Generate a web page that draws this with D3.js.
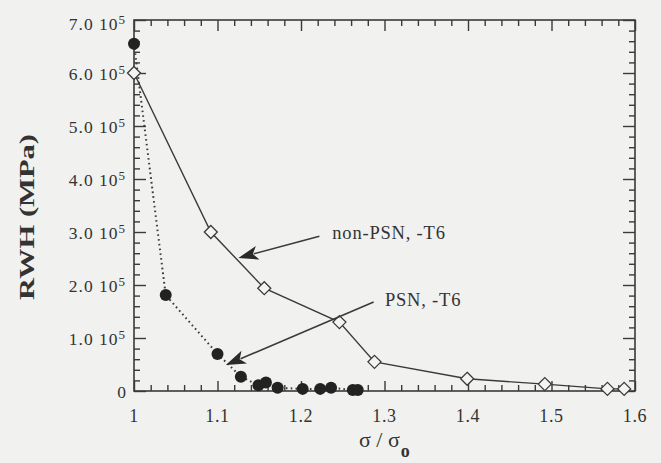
<!DOCTYPE html>
<html><head><meta charset="utf-8">
<script src="https://cdn.jsdelivr.net/npm/d3@7"></script>
<style>body{margin:0;background:#f1f1ef;}svg{display:block;}</style>
</head><body>
<svg id="c" width="661" height="463"></svg>
<script>
// Data
const nonPsnX = [1.0, 1.092, 1.156, 1.246, 1.288, 1.399, 1.492, 1.567, 1.587];
const nonPsnY = [6.0e5, 3.0e5, 1.94e5, 1.30e5, 0.55e5, 0.23e5, 0.13e5, 0.04e5, 0.04e5];
const psnX = [1.0, 1.038, 1.100, 1.128, 1.149, 1.158, 1.172, 1.202, 1.223, 1.236, 1.262, 1.268];
const psnY = [6.55e5, 1.81e5, 0.70e5, 0.27e5, 0.11e5, 0.16e5, 0.06e5, 0.04e5, 0.04e5, 0.06e5, 0.02e5, 0.02e5];
const xTicks = [1, 1.1, 1.2, 1.3, 1.4, 1.5, 1.6];
const xTickLabels = ["1", "1.1", "1.2", "1.3", "1.4", "1.5", "1.6"];
const yTicks = [0, 1e5, 2e5, 3e5, 4e5, 5e5, 6e5, 7e5];
const yTickLabels = ["0", "1.0", "2.0", "3.0", "4.0", "5.0", "6.0", "7.0"];
const annotations = [
  {text: "non-PSN, -T6", from: [1.222, 2.92e5], to: [1.125, 2.51e5], label: [1.2375, 2.86e5]},
  {text: "PSN, -T6", from: [1.287, 1.68e5], to: [1.110, 0.49e5], label: [1.3005, 1.60e5]}
];

const svg = d3.select("#c");
const L = 134, R = 635, T = 20, B = 391;
const x = d3.scaleLinear().domain([1, 1.6]).range([L, R]);
const y = d3.scaleLinear().domain([0, 7e5]).range([B, T]);
const ink = "#3a3a3a";
const font = "'Liberation Serif', 'Times New Roman', serif";

// frame
svg.append("rect").attr("x", L).attr("y", T).attr("width", R - L).attr("height", B - T)
  .attr("fill", "none").attr("stroke", ink).attr("stroke-width", 1.6);

const xMinor = d3.range(1, 1.6001, 0.02);
const yMinor = d3.range(0, 7.0001e5, 0.2e5);
const isMajX = v => Math.abs(v * 10 - Math.round(v * 10)) < 1e-6;
const isMajY = v => Math.abs(v / 1e5 - Math.round(v / 1e5)) < 1e-6;

// axes with inward ticks
const gB = svg.append("g").attr("transform", `translate(0,${B})`)
  .call(d3.axisBottom(x).tickValues(xMinor).tickSize(0).tickFormat(""));
gB.selectAll(".tick line").attr("y2", d => isMajX(d) ? -10 : -6);
const gT = svg.append("g").attr("transform", `translate(0,${T})`)
  .call(d3.axisTop(x).tickValues(xMinor).tickSize(0).tickFormat(""));
gT.selectAll(".tick line").attr("y2", d => isMajX(d) ? 11 : 6);
const gL = svg.append("g").attr("transform", `translate(${L},0)`)
  .call(d3.axisLeft(y).tickValues(yMinor).tickSize(0).tickFormat(""));
gL.selectAll(".tick line").attr("x2", d => isMajY(d) ? 12 : 6);
const gR = svg.append("g").attr("transform", `translate(${R},0)`)
  .call(d3.axisRight(y).tickValues(yMinor).tickSize(0).tickFormat(""));
gR.selectAll(".tick line").attr("x2", d => isMajY(d) ? -12 : -6);
[gB, gT, gL, gR].forEach(g => {
  g.select(".domain").remove();
  g.selectAll(".tick line").attr("stroke", ink).attr("stroke-width", 1.4);
});

// tick labels
svg.append("g").selectAll("text").data(xTicks).join("text")
  .attr("x", d => x(d)).attr("y", 422).attr("text-anchor", "middle")
  .attr("font-family", font).attr("font-size", 18).attr("letter-spacing", 0.6).attr("fill", "#333")
  .text((d, i) => xTickLabels[i]);
const yl = svg.append("g").selectAll("text").data(yTicks).join("text")
  .attr("y", d => y(d) + (d === 7e5 ? 10 : 7)).attr("font-family", font).attr("font-size", 17.5)
  .attr("letter-spacing", 1.0).attr("fill", "#333");
yl.each(function (d, i) {
  const t = d3.select(this);
  if (d === 0) {
    t.attr("x", 127).attr("text-anchor", "end").text(yTickLabels[i]);
  } else {
    t.attr("x", 126).attr("text-anchor", "end");
    t.append("tspan").text(yTickLabels[i] + " 10");
    t.append("tspan").attr("dy", -6).attr("font-size", 13).text("5");
  }
});

// axis titles
svg.append("text").attr("transform", "translate(34,217) rotate(-90)")
  .attr("text-anchor", "middle").attr("font-family", font).attr("font-weight", "bold")
  .attr("font-size", 21).attr("textLength", 166).attr("lengthAdjust", "spacingAndGlyphs")
  .attr("fill", "#333").text("RWH (MPa)");
const xt = svg.append("text").attr("x", 359).attr("y", 447)
  .attr("font-family", font).attr("font-size", 22).attr("fill", "#333");
xt.append("tspan").text("σ / σ");
xt.append("tspan").attr("dy", 10).attr("dx", 1).attr("font-size", 18).attr("font-weight", "bold").text("o");

// lines
const lineGen = d3.line().x(d => x(d[0])).y(d => y(d[1]));
const nonPsn = nonPsnX.map((v, i) => [v, nonPsnY[i]]);
const psn = psnX.map((v, i) => [v, psnY[i]]);
svg.append("path").datum(psn).attr("d", lineGen).attr("fill", "none")
  .attr("stroke", ink).attr("stroke-width", 2).attr("stroke-dasharray", "1.6,3.2");
svg.append("path").datum(nonPsn).attr("d", lineGen).attr("fill", "none")
  .attr("stroke", ink).attr("stroke-width", 1.4);

// markers
svg.append("g").selectAll("circle").data(psn).join("circle")
  .attr("cx", d => x(d[0])).attr("cy", d => y(d[1])).attr("r", 6).attr("fill", "#222");
svg.append("g").selectAll("path").data(nonPsn).join("path")
  .attr("transform", d => `translate(${x(d[0])},${y(d[1])})`)
  .attr("d", "M0,-6.5L6.5,0L0,6.5L-6.5,0Z")
  .attr("fill", "#f4f4f2").attr("stroke", ink).attr("stroke-width", 1.3);

// annotations
annotations.forEach(a => {
  const x1 = x(a.from[0]), y1 = y(a.from[1]), x2 = x(a.to[0]), y2 = y(a.to[1]);
  const ang = Math.atan2(y2 - y1, x2 - x1);
  const hl = 20, hw = 7;
  const bx = x2 - hl * Math.cos(ang), by = y2 - hl * Math.sin(ang);
  const nx = -Math.sin(ang), ny = Math.cos(ang);
  svg.append("line").attr("x1", x1).attr("y1", y1).attr("x2", bx + 4 * Math.cos(ang)).attr("y2", by + 4 * Math.sin(ang))
    .attr("stroke", ink).attr("stroke-width", 1.6);
  const notch = 5;
  svg.append("path").attr("d",
    `M${x2},${y2}L${bx + hw * nx},${by + hw * ny}L${bx + notch * Math.cos(ang)},${by + notch * Math.sin(ang)}L${bx - hw * nx},${by - hw * ny}Z`)
    .attr("fill", "#2a2a2a");
  svg.append("text").attr("x", x(a.label[0])).attr("y", y(a.label[1]))
    .attr("font-family", font).attr("font-size", 18.5).attr("letter-spacing", 0.8)
    .attr("fill", "#333").text(a.text);
});
</script>
</body></html>
